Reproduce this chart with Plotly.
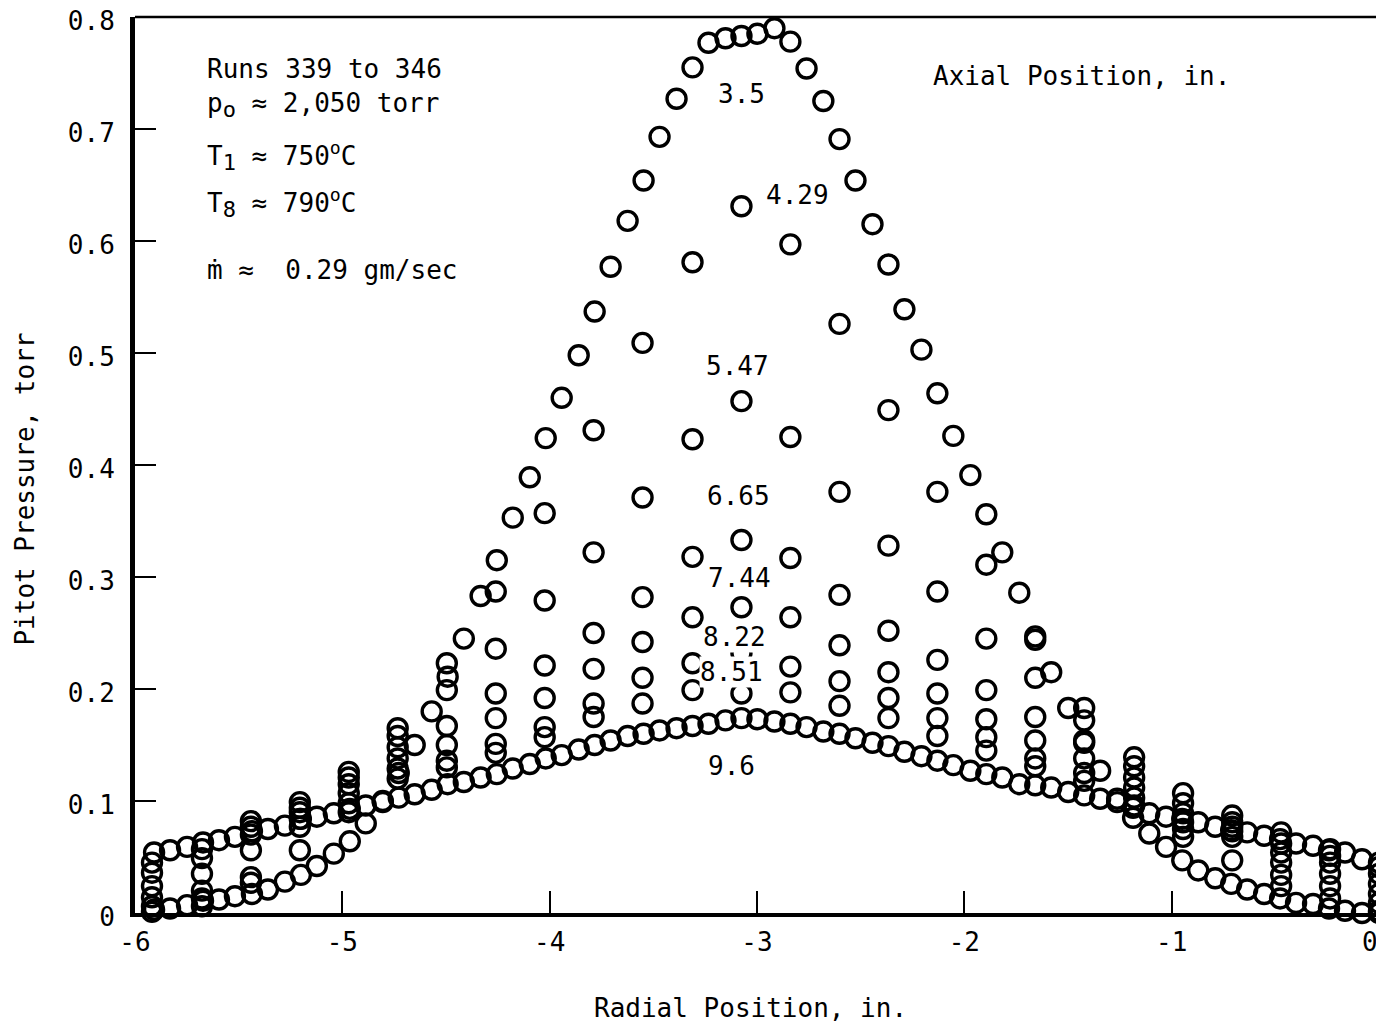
import plotly.graph_objects as go

FONT = "DejaVu Sans Mono"

# radial stations of the finely traversed profiles (3.5 in. and 9.6 in.)
X_FINE = [
    -5.908, -5.831, -5.749, -5.672, -5.595, -5.518, -5.436, -5.359, -5.277, -5.200,
    -5.123, -5.041, -4.964, -4.887, -4.805, -4.728, -4.651, -4.569, -4.492, -4.414,
    -4.333, -4.255, -4.178, -4.096, -4.019, -3.942, -3.860, -3.783, -3.706, -3.624,
    -3.547, -3.470, -3.388, -3.311, -3.234, -3.152, -3.075, -2.998, -2.916, -2.839,
    -2.761, -2.680, -2.602, -2.525, -2.443, -2.366, -2.289, -2.207, -2.130, -2.053,
    -1.971, -1.894, -1.817, -1.735, -1.658, -1.581, -1.499, -1.422, -1.345, -1.263,
    -1.186, -1.108, -1.027, -0.949, -0.872, -0.790, -0.713, -0.636, -0.554, -0.477,
    -0.400, -0.318, -0.241, -0.164, -0.082, 0.000,
]

P_350 = [
    0.003, 0.004, 0.007, 0.011, 0.012, 0.015, 0.017, 0.021, 0.028, 0.034,
    0.042, 0.053, 0.064, 0.080, 0.100, 0.125, 0.150, 0.180, 0.211, 0.245,
    0.283, 0.315, 0.353, 0.389, 0.424, 0.460, 0.498, 0.537, 0.577, 0.618,
    0.654, 0.693, 0.727, 0.755, 0.777, 0.781, 0.783, 0.785, 0.790, 0.778,
    0.754, 0.725, 0.691, 0.654, 0.615, 0.579, 0.539, 0.503, 0.464, 0.426,
    0.391, 0.356, 0.322, 0.286, 0.247, 0.215, 0.183, 0.154, 0.127, 0.102,
    0.085, 0.071, 0.059, 0.047, 0.038, 0.031, 0.026, 0.021, 0.017, 0.013,
    0.009, 0.008, 0.004, 0.002, 0.000, 0.000,
]

P_960 = [
    0.054, 0.056, 0.059, 0.063, 0.065, 0.068, 0.073, 0.075, 0.078, 0.084,
    0.086, 0.089, 0.093, 0.096, 0.099, 0.103, 0.106, 0.110, 0.115, 0.117,
    0.121, 0.124, 0.129, 0.133, 0.138, 0.141, 0.146, 0.150, 0.154, 0.158,
    0.160, 0.163, 0.165, 0.167, 0.169, 0.172, 0.174, 0.173, 0.171, 0.169,
    0.166, 0.162, 0.160, 0.156, 0.152, 0.149, 0.144, 0.140, 0.136, 0.132,
    0.127, 0.124, 0.121, 0.115, 0.114, 0.112, 0.108, 0.105, 0.102, 0.099,
    0.094, 0.089, 0.086, 0.084, 0.081, 0.077, 0.074, 0.072, 0.069, 0.066,
    0.062, 0.060, 0.056, 0.054, 0.048, 0.045,
]

# radial stations of the coarse traverses
X_COARSE = [
    -5.918, -5.677, -5.441, -5.205, -4.969, -4.733, -4.496, -4.260, -4.024,
    -3.788, -3.552, -3.311, -3.075, -2.839, -2.602, -2.366, -2.130, -1.894,
    -1.658, -1.422, -1.181, -0.945, -0.708, -0.472, -0.236, 0.000,
]

P_429 = [0.001, 0.006, 0.027, 0.056, 0.090, 0.165, 0.223, 0.287, 0.357, 0.431, 0.509, 0.581, 0.631,
         0.597, 0.526, 0.449, 0.376, 0.311, 0.244, 0.183, 0.139, 0.068, 0.047, 0.024, 0.013, 0.002]
P_547 = [0.006, 0.013, 0.032, 0.077, 0.098, 0.158, 0.199, 0.236, 0.279, 0.322, 0.371, 0.423, 0.457,
         0.425, 0.376, 0.328, 0.287, 0.245, 0.210, 0.172, 0.131, 0.075, 0.068, 0.034, 0.024, 0.009]
P_665 = [0.014, 0.020, 0.056, 0.084, 0.107, 0.148, 0.167, 0.196, 0.221, 0.250, 0.282, 0.318, 0.333,
         0.317, 0.284, 0.252, 0.226, 0.199, 0.175, 0.152, 0.121, 0.081, 0.073, 0.045, 0.035, 0.017]
P_744 = [0.024, 0.035, 0.070, 0.090, 0.115, 0.138, 0.150, 0.174, 0.192, 0.218, 0.242, 0.264, 0.273,
         0.264, 0.239, 0.215, 0.196, 0.173, 0.154, 0.138, 0.112, 0.089, 0.077, 0.054, 0.045, 0.026]
P_822 = [0.036, 0.049, 0.077, 0.094, 0.121, 0.129, 0.136, 0.151, 0.166, 0.187, 0.210, 0.223, 0.232,
         0.220, 0.207, 0.192, 0.174, 0.157, 0.138, 0.125, 0.103, 0.098, 0.081, 0.062, 0.051, 0.035]
P_851 = [0.045, 0.057, 0.082, 0.099, 0.126, 0.120, 0.130, 0.143, 0.157, 0.175, 0.187, 0.199, 0.196,
         0.197, 0.185, 0.174, 0.158, 0.145, 0.131, 0.118, 0.096, 0.107, 0.087, 0.072, 0.057, 0.041]

PROFILES = [
    ("3.5", X_FINE, P_350),
    ("4.29", X_COARSE, P_429),
    ("5.47", X_COARSE, P_547),
    ("6.65", X_COARSE, P_665),
    ("7.44", X_COARSE, P_744),
    ("8.22", X_COARSE, P_822),
    ("8.51", X_COARSE, P_851),
    ("9.6", X_FINE, P_960),
]

# station labels: (text, x, y, white background)
STATION_LABELS = [
    ("3.5", -3.075, 0.731, False),
    ("4.29", -2.805, 0.641, False),
    ("5.47", -3.094, 0.488, False),
    ("6.65", -3.089, 0.372, False),
    ("7.44", -3.084, 0.299, True),
    ("8.22", -3.108, 0.246, True),
    ("8.51", -3.123, 0.215, True),
    ("9.6", -3.123, 0.131, False),
]

SUB = '<sub><span style="font-size:22px">{}</span></sub>'
CONDITIONS = [
    ("Runs 339 to 346", 0.754),
    ("p" + SUB.format("o") + " ≈ 2,050 torr", 0.721),
    ("T" + SUB.format("1") + " ≈ 750<sup>o</sup>C", 0.676),
    ("T" + SUB.format("8") + " ≈ 790<sup>o</sup>C", 0.634),
    ("ṁ ≈  0.29 gm/sec", 0.574),
]

X_TICKS = [-6, -5, -4, -3, -2, -1, 0]
# the last label sits on the window edge, so it is drawn as a right-aligned annotation
X_TICK_TEXT = ["-6", "-5", "-4", "-3", "-2", "-1", ""]
Y_TICKS = [0, 0.1, 0.2, 0.3, 0.4, 0.5, 0.6, 0.7, 0.8]
Y_TICK_TEXT = ["0", "0.1", "0.2", "0.3", "0.4", "0.5", "0.6", "0.7", "0.8"]

fig = go.Figure()
for name, xs, ys in PROFILES:
    fig.add_trace(
        go.Scatter(
            x=xs,
            y=ys,
            mode="markers",
            name=name,
            cliponaxis=False,
            marker=dict(symbol="circle-open", size=19, color="black",
                        line=dict(width=3.4, color="black")),
        )
    )

annotations = []
for text, y in CONDITIONS:
    annotations.append(dict(text=text, x=-5.662, y=y, xref="x", yref="y",
                            xanchor="left", yanchor="middle", showarrow=False))
annotations.append(dict(text="Axial Position, in.", x=-2.159, y=0.747, xref="x", yref="y",
                        xanchor="left", yanchor="middle", showarrow=False))
for text, x, y, masked in STATION_LABELS:
    annotations.append(dict(text=text, x=x, y=y, xref="x", yref="y", showarrow=False,
                            xanchor="center", yanchor="middle",
                            bgcolor="white" if masked else None, borderpad=0))
annotations.append(dict(text="0", x=X_TICKS[-1], y=-0.0324, xref="x", yref="paper",
                        xanchor="right", yanchor="middle", xshift=1, showarrow=False))
annotations.append(dict(text="Radial Position, in.", x=0.495, y=-0.106, xref="paper", yref="paper",
                        xanchor="center", yanchor="middle", showarrow=False))
annotations.append(dict(text="Pitot Pressure, torr", x=-0.0884, y=0.4726, xref="paper",
                        yref="paper", textangle=-90, xanchor="center", yanchor="middle",
                        showarrow=False))

# the page body adds an 8px margin, so the figure is sized to end at the window edge
fig.update_layout(
    width=1376,
    height=1019,
    margin=dict(l=127, r=5, t=9, b=114),
    paper_bgcolor="white",
    plot_bgcolor="white",
    showlegend=False,
    font=dict(family=FONT, size=26, color="black"),
    annotations=annotations,
    shapes=[
        dict(type="line", xref="paper", yref="paper", x0=0, x1=1, y0=1, y1=1,
             line=dict(color="black", width=2.5)),
        dict(type="line", xref="paper", yref="paper", x0=1, x1=1, y0=0, y1=1,
             line=dict(color="black", width=2.5)),
    ],
)
fig.update_xaxes(
    range=[-6, 0], tickvals=X_TICKS, ticktext=X_TICK_TEXT,
    ticks="inside", ticklen=22, tickwidth=2, tickcolor="black",
    showline=True, linewidth=4, linecolor="black", automargin=False,
    ticklabeloverflow="allow", ticklabelstandoff=3,
    showgrid=False, zeroline=False, tickfont=dict(family=FONT, size=26),
)
fig.update_yaxes(
    range=[0, 0.8], tickvals=Y_TICKS, ticktext=Y_TICK_TEXT,
    ticks="inside", ticklen=21, tickwidth=2, tickcolor="black",
    showline=True, linewidth=5, linecolor="black", automargin=False,
    ticklabeloverflow="allow", ticklabelstandoff=10, ticklabelshift=4,
    showgrid=False, zeroline=False, tickfont=dict(family=FONT, size=26),
)

fig.write_html("out.html")
